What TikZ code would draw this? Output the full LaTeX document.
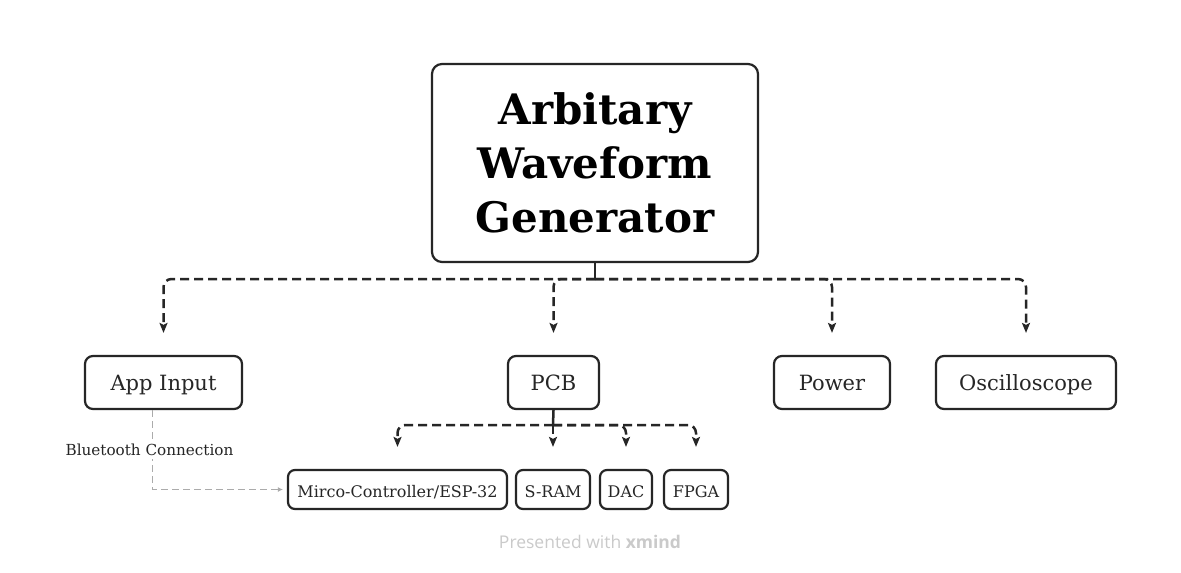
\documentclass[tikz,border=0pt]{standalone}
\usepackage{fontspec}
\setmainfont{DejaVu Serif}
\setsansfont{Open Sans}
\usetikzlibrary{arrows.meta}
\definecolor{darkline}{HTML}{262626}
\definecolor{linkgray}{HTML}{ABABAB}
\definecolor{marktext}{HTML}{CACACA}
\begin{document}
\begin{tikzpicture}
    [%%%%%%%%%%%%%%%%%%%%%%%%%%%%%%
        x=1pt,y=-1pt,
        box/.style={rectangle,draw=darkline,line width=2.2pt,rounded corners=8pt,fill=white,inner sep=0pt,text=darkline,text height=15pt,text depth=0pt,font=\fontsize{21}{21}\selectfont},
        subbox/.style={box,rounded corners=7pt,minimum height=39pt,font=\fontsize{16}{16}\selectfont},
        rootbox/.style={box,rounded corners=10pt,minimum width=326pt,minimum height=198pt,align=center,text=black,text height=,text depth=,font=\fontsize{42}{54}\selectfont\bfseries},
        stem/.style={draw=darkline,line width=2.5pt},
        branch/.style={draw=darkline,line width=2.5pt,dash pattern=on 9pt off 5pt,rounded corners=8pt,-{Stealth[length=10pt,width=8pt,inset=2pt]},shorten >=22pt},
        btlink/.style={draw=linkgray,line width=1.3pt,dash pattern=on 7pt off 4pt,-{Latex[length=5pt,width=5pt]},shorten >=4pt},
        btlabel/.style={fill=white,text=darkline,inner sep=3pt,font=\fontsize{15.2}{15.2}\selectfont},
    ]%%%%%%%%%%%%%%%%%%%%%%%%%%%%%%
    \fill[white] (0,0) rectangle (1181,573);
    \useasboundingbox (0,0) rectangle (1181,573);

    \node[rootbox] (awg) at (595,163) {Arbitary\\Waveform\\Generator};

    \node[box, minimum width=157pt, minimum height=53pt] (app) at (163.5,382.5) {App Input};
    \node[box, minimum width=91pt, minimum height=53pt] (pcb) at (553.5,382.5) {PCB};
    \node[box, minimum width=116pt, minimum height=53pt] (power) at (832,382.5) {Power};
    \node[box, minimum width=180pt, minimum height=53pt] (osc) at (1026,382.5) {Oscilloscope};

    \node[subbox, minimum width=219pt] (mcu) at (397.5,489.5) {Mirco-Controller/ESP-32};
    \node[subbox, minimum width=74pt] (sram) at (553,489.5) {S-RAM};
    \node[subbox, minimum width=52pt] (dac) at (626,489.5) {DAC};
    \node[subbox, minimum width=64pt] (fpga) at (696,489.5) {FPGA};

    % top level
    \coordinate (awghub) at (595,279);
    \draw[stem] (awg.south) -- (awghub);
    \draw[branch] (awghub) -| (app);
    \draw[branch] (awghub) -| (pcb);
    \draw[branch] (awghub) -| (power);
    \draw[branch] (awghub) -| (osc);

    % pcb parts
    \coordinate (pcbhub) at (553,425);
    \draw[stem] (pcb.south) -- (pcbhub);
    \draw[branch] (pcbhub) -| (mcu);
    \draw[branch] (pcbhub) -- (sram);
    \draw[branch] (pcbhub) -| (dac);
    \draw[branch] (pcbhub) -| (fpga);

    % app link
    \draw[btlink] ([xshift=-11pt]app.south) |- node[pos=0.25, xshift=-3pt, btlabel] {Bluetooth Connection} (mcu.west);

    \node[text=marktext, font=\sffamily\fontsize{17.5}{17.5}\selectfont] (mark) at (590,542) {Presented with \textbf{xmind}};
\end{tikzpicture}
\end{document}
